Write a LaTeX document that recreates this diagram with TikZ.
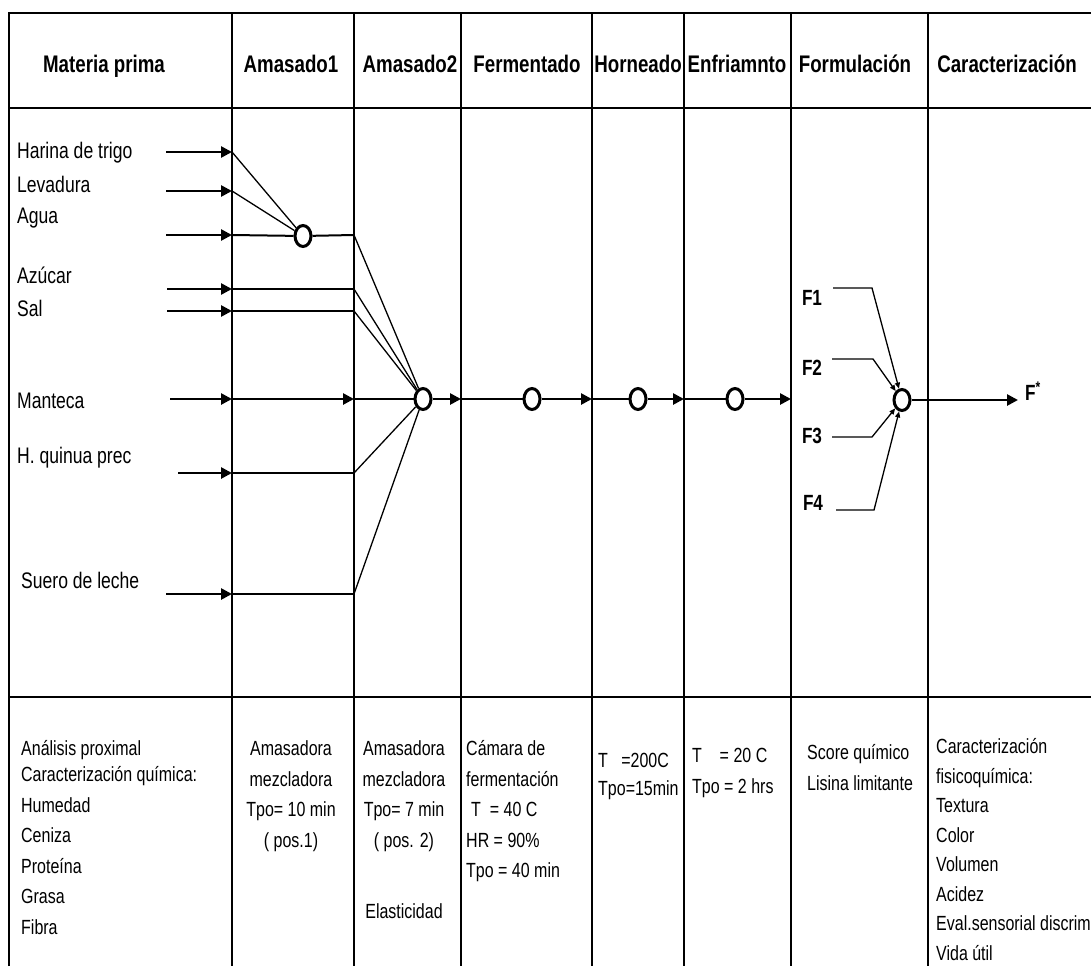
\documentclass[tikz,border=0pt]{standalone}
\usepackage{fontspec}
\setmainfont{Liberation Sans}[FakeStretch=0.78]
\usetikzlibrary{arrows.meta,shapes.geometric}

\begin{document}
\begin{tikzpicture}[
  x=1pt, y=-1pt,
  grid/.style={line width=2.4pt},
  hdr/.style={font=\fontsize{24}{28}\selectfont\bfseries, inner sep=0, text height=17pt, text depth=5pt},
  inlbl/.style={font=\fontsize{22.5}{26}\selectfont, anchor=west, inner sep=0, text height=16pt, text depth=5pt},
  cell/.style={font=\fontsize{20.5}{30.5}\selectfont, inner sep=0, anchor=north west, align=left},
  flbl/.style={font=\fontsize{22}{26}\selectfont\bfseries, inner sep=0, text height=16pt, text depth=0pt},
  mix/.style={ellipse, draw, line width=3pt, minimum width=16pt, minimum height=21pt, inner sep=0},
  flow/.style={line width=2.6pt, -{Triangle[length=11pt,width=11pt]}},
  link/.style={line width=2pt},
  feed/.style={line width=1.3pt},
  ftip/.style={line width=1.3pt, -{Triangle[length=6pt,width=5pt]}}
]
\useasboundingbox (0,0) rectangle (1091,966);

% table
\draw[grid] (9,966) -- (9,13) -- (1091,13);
\draw[grid] (9,108) -- (1091,108);
\draw[grid] (9,697) -- (1091,697);
\foreach \cx in {232,354,461,592,684,791,928}
  \draw[grid] (\cx,13) -- (\cx,966);

% headers
\node[hdr] (h1) at (104,67) {Materia prima};
\node[hdr] (h2) at (291,67) {Amasado1};
\node[hdr] (h3) at (410,67) {Amasado2};
\node[hdr] (h4) at (527,67) {Fermentado};
\node[hdr] (h5) at (638,67) {Horneado};
\node[hdr] (h6) at (737,67) {Enfriamnto};
\node[hdr] (h7) at (855,67) {Formulación};
\node[hdr] (h8) at (1007,67) {Caracterización};

% raw materials
\node[inlbl] (harina) at (17,153) {Harina de trigo};
\node[inlbl] (levadura) at (17,187) {Levadura};
\node[inlbl] (agua) at (17,218) {Agua};
\node[inlbl] (azucar) at (17,278) {Azúcar};
\node[inlbl] (sal) at (17,311) {Sal};
\node[inlbl] (manteca) at (17,403) {Manteca};
\node[inlbl] (quinua) at (17,458) {H. quinua prec};
\node[inlbl] (suero) at (21,583) {Suero de leche};

\foreach \n/\xs/\yy in {harina/166/152, levadura/166/191, agua/166/235,
    azucar/167/289, sal/167/311, manteca/170/399, quinua/178/473, suero/166/594} {
  \coordinate (\n-s) at (\xs,\yy);
  \coordinate (\n-a) at (232,\yy);
  \coordinate (\n-b) at (354,\yy);
  \draw[flow] (\n-s) -- (\n-a);
}

% mixing points
\node[mix] (m1) at (303,236) {};
\node[mix] (m2) at (423,399) {};
\node[mix] (m3) at (532,399) {};
\node[mix] (m4) at (638,399) {};
\node[mix] (m5) at (735,399) {};
\node[mix] (mf) at (902,400) {};

% Amasado 1
\draw[feed] (harina-a) -- (m1);
\draw[feed] (levadura-a) -- (m1);
\draw[link] (agua-a) -- (m1) -- (agua-b);

% Amasado 2
\draw[feed] (agua-b) -- (m2);
\foreach \n in {azucar,sal,quinua,suero} {
  \draw[link] (\n-a) -- (\n-b);
  \draw[feed] (\n-b) -- (m2);
}
\draw[flow] (manteca-a) -- (manteca-b);
\draw[link] (manteca-b) -- (m2);

% main line
\coordinate (ferm-in) at (461,399);
\coordinate (horn-in) at (592,399);
\coordinate (enfr-in) at (684,399);
\coordinate (form-in) at (791,399);
\draw[flow] (m2) -- (ferm-in);
\draw[link] (ferm-in) -- (m3);
\draw[flow] (m3) -- (horn-in);
\draw[link] (horn-in) -- (m4);
\draw[flow] (m4) -- (enfr-in);
\draw[link] (enfr-in) -- (m5);
\draw[flow] (m5) -- (form-in);

% formulations
\node[flbl] (f1) at (812,297) {F1};
\node[flbl] (f2) at (812,367) {F2};
\node[flbl] (f3) at (812,435) {F3};
\node[flbl] (f4) at (813,502) {F4};
\foreach \n/\xs/\xk/\yy in {f1/833/872/288, f2/832/873/359, f3/832/872/437, f4/836/874/510} {
  \coordinate (\n-s) at (\xs,\yy);
  \coordinate (\n-k) at (\xk,\yy);
  \draw[ftip] (\n-s) -- (\n-k) -- (mf);
}
\node[flbl, anchor=west] (fstar) at (1025,392) {F\textsuperscript{*}};
\coordinate (out) at (1018,400);
\draw[flow] (mf) -- (out);

% lower row
\node[cell] (c1) at (21,734) {\strut Análisis proximal\\[-4.5pt]Caracterización química:\\Humedad\\Ceniza\\Proteína\\Grasa\\Fibra};
\node[cell, anchor=north, align=center] (c2) at (291,734) {\strut Amasadora\\mezcladora\\Tpo= 10 min\\( pos.1)};
\node[cell, anchor=north, align=center] (c3) at (404,734) {\strut Amasadora\\mezcladora\\Tpo= 7 min\\( pos. 2)\\[41pt]Elasticidad};
\node[cell] (c4) at (466,734) {\strut Cámara de\\fermentación\\\hspace*{5pt}T\ \ = 40 C\\HR = 90\%\\Tpo = 40 min};
\node[cell] (c5) at (598,746) {\strut T\ \ \ =200C\\[-2.5pt]Tpo=15min};
\node[cell] (c6) at (692,741) {\strut T\ \ \ \ = 20 C\\Tpo = 2 hrs};
\node[cell] (c7) at (807,738) {\strut Score químico\\Lisina limitante};
\node[cell, font=\fontsize{20.5}{29.5}\selectfont] (c8) at (936,733) {\strut Caracterización\\fisicoquímica:\\Textura\\Color\\Volumen\\Acidez\\Eval.sensorial discrim\\Vida útil};

\end{tikzpicture}
\end{document}
